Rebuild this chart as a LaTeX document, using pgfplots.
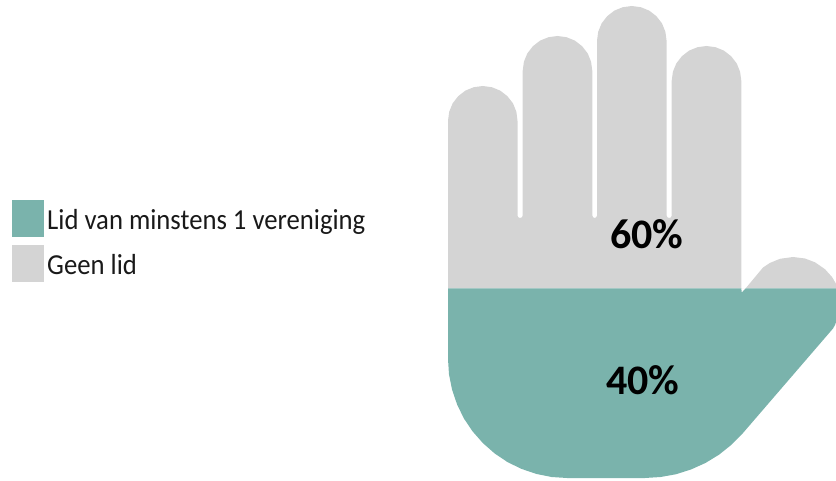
\documentclass[border=0pt]{standalone}
\usepackage{pgfplots}
\pgfplotsset{compat=1.18}
\usepackage{fontspec}
\setmainfont{Carlito}
\definecolor{lid}{HTML}{7AB3AC}
\definecolor{geen}{HTML}{D4D4D4}
\begin{document}
\begin{tikzpicture}
\useasboundingbox (0,0) rectangle (836pt,481pt);
\begin{axis}[at={(0,0)},anchor=south west,scale only axis,width=836pt,height=481pt,
  xmin=0,xmax=836,ymin=0,ymax=481,y dir=reverse,hide axis,clip=false]
% Geen lid: hand above the 60/40 line
\addplot[fill=geen,draw=none] coordinates {
(448,288.5)(448,120.8)
(449.2,111.8)(452.6,103.4)(458.2,96.2)(465.4,90.6)(473.8,87.2)(482.8,86)
(491.8,87.2)(500.2,90.6)(507.4,96.2)(513,103.4)(516.4,111.8)(517.5,120.8)
(517.5,215.5)(518.3,217.3)(520.1,218)(521.9,217.3)(522.7,215.5)
(522.7,70.8)
(523.9,61.8)(527.3,53.4)(532.9,46.2)(540.1,40.6)(548.5,37.2)(557.5,36)
(566.5,37.2)(574.9,40.6)(582.1,46.2)(587.7,53.4)(591.1,61.8)(592.3,70.8)
(592.3,215.5)(593.1,217.3)(594.7,218)(596.2,217.3)(597,215.5)
(597,40.8)
(598.2,31.8)(601.6,23.4)(607.2,16.2)(614.4,10.6)(622.8,7.2)(631.8,6)
(640.8,7.2)(649.2,10.6)(656.4,16.2)(662,23.4)(665.4,31.8)(666.6,40.8)
(666.6,215.5)(667.4,217.3)(669.2,218)(671,217.3)(671.7,215.5)
(671.7,80.8)
(672.9,71.8)(676.3,63.4)(681.9,56.2)(689.1,50.6)(697.5,47.2)(706.5,46)
(715.5,47.2)(723.9,50.6)(731.1,56.2)(736.7,63.4)(740.1,71.8)(741.3,80.8)
(741.3,288.5)(745.5,288.5)
(763,267.5)(770,262.9)(780,258.8)(793,257)(805,258.5)(815,262.3)(825,269.2)(832,277)(836,283.7)
(836,288.5)
} --cycle;
% Lid van minstens 1 vereniging: hand below the 60/40 line
\addplot[fill=lid,draw=none] coordinates {
(448,288.5)(741.3,288.5)(741.8,292.5)(745.5,288.5)(836,288.5)(836,322)(835,325)(833,328.5)(827,335.5)
(743,433)(731.3,444.9)(719,454.7)(705.6,462.9)(691.2,469.4)(676.2,474.2)(660.7,477)(645,478)
(567,478)(551.5,477)(536.2,473.9)(521.5,468.9)(507.5,462.1)(494.6,453.4)(482.9,443.1)(472.6,431.4)(463.9,418.5)(457.1,404.5)(452.1,389.8)(449,374.5)(448,359)
} --cycle;
% legend swatches
\addplot[fill=lid,draw=none] coordinates {(12,200)(44,200)(44,237)(12,237)} --cycle;
\addplot[fill=geen,draw=none] coordinates {(12,245)(44,245)(44,282)(12,282)} --cycle;
\node[anchor=base west,inner sep=0pt,font=\fontsize{29}{29}\selectfont,text=black!90] at (axis cs:47,230) {\scalebox{.92}[1]{Lid van minstens 1 vereniging}};
\node[anchor=base west,inner sep=0pt,font=\fontsize{29}{29}\selectfont,text=black!90] at (axis cs:47,275) {\scalebox{.92}[1]{Geen lid}};
\node[anchor=center,inner sep=0pt,font=\fontsize{42}{42}\selectfont\bfseries] at (axis cs:647,234) {60\%};
\node[anchor=center,inner sep=0pt,font=\fontsize{42}{42}\selectfont\bfseries] at (axis cs:643,380) {40\%};
\end{axis}
\end{tikzpicture}
\end{document}
